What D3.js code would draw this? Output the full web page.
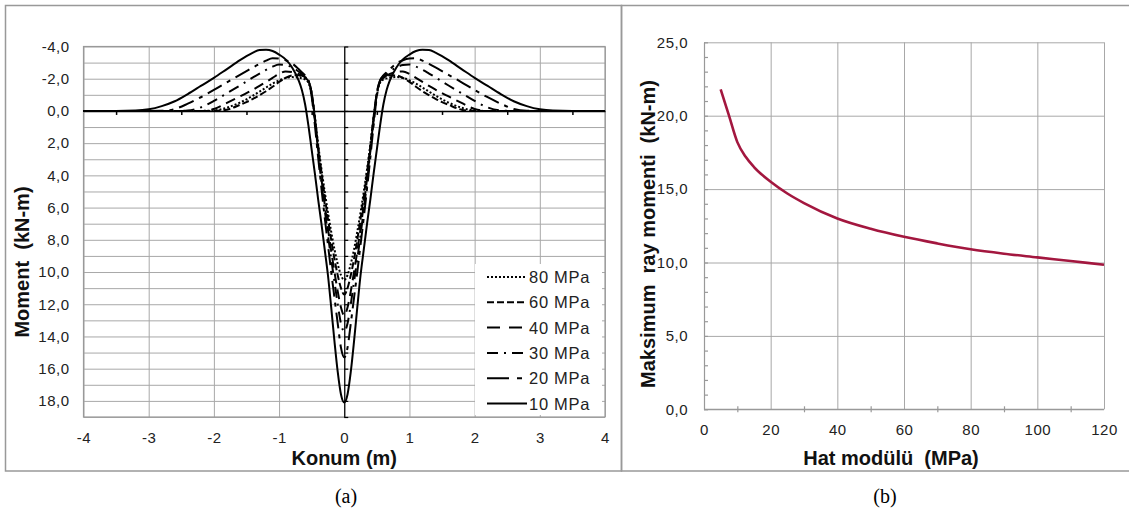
<!DOCTYPE html>
<html>
<head>
<meta charset="utf-8">
<script src="https://cdn.jsdelivr.net/npm/d3@7"></script>
<style>
  body { margin: 0; background: #fff; }
  svg { display: block; font-family: "Liberation Sans", Arial, sans-serif; }
  .grid line { stroke: #a8a8a8; stroke-width: 1; }
  .grid path { display: none; }
  .lbl path, .lbl line { display: none; }
  .lbl text { font-size: 15px; letter-spacing: 0.5px; fill: #222; }
  .title { font-weight: bold; font-size: 20px; fill: #111; white-space: pre; }
  .cap { font-family: "Liberation Serif", "Times New Roman", serif; font-size: 20px; fill: #000; }
</style>
</head>
<body>
<svg id="chart" width="1129" height="508"></svg>
<script>
// ---- panel (a): moment along the rail, one series per track modulus ----
const konum = [-4.0, -3.5, -3.2, -3.0, -2.8, -2.6, -2.4, -2.2, -2.0, -1.8, -1.6, -1.5, -1.4, -1.3, -1.2, -1.1, -1.0, -0.9, -0.8, -0.7, -0.65, -0.6, -0.55, -0.5, -0.45, -0.4, -0.35, -0.3, -0.25, -0.2, -0.15, -0.1, -0.05,
  0, 0.05, 0.1, 0.15, 0.2, 0.25, 0.3, 0.35, 0.4, 0.45, 0.5, 0.55, 0.6, 0.65, 0.7, 0.8, 0.9, 1.0, 1.1, 1.2, 1.3, 1.4, 1.5, 1.6, 1.8, 2.0, 2.2, 2.4, 2.6, 2.8, 3.0, 3.2, 3.5, 4.0];

const moment80 = [0, 0, 0, 0, 0, 0, 0, 0, -0.03, -0.2, -0.52, -0.72, -0.95, -1.2, -1.45, -1.7, -1.9, -2.05, -2.1, -2.07, -2.02, -1.95, -1.75, -1.0, 0.4, 2.1, 3.6, 5.0, 6.3, 7.5, 8.6, 9.5, 10.2,
  10.5, 10.2, 9.5, 8.6, 7.5, 6.3, 5.0, 3.6, 2.1, 0.4, -1.0, -1.75, -1.95, -2.02, -2.07, -2.1, -2.05, -1.9, -1.7, -1.45, -1.2, -0.95, -0.72, -0.52, -0.2, -0.03, 0, 0, 0, 0, 0, 0, 0, 0];
const moment60 = [0, 0, 0, 0, 0, 0, 0, 0, 0, -0.08, -0.38, -0.55, -0.75, -0.98, -1.22, -1.5, -1.8, -2.05, -2.2, -2.22, -2.15, -2.05, -1.85, -1.1, 0.4, 2.2, 3.8, 5.3, 6.7, 8.0, 9.2, 10.2, 11.0,
  11.4, 11.0, 10.2, 9.2, 8.0, 6.7, 5.3, 3.8, 2.2, 0.4, -1.1, -1.85, -2.05, -2.15, -2.22, -2.2, -2.05, -1.8, -1.5, -1.22, -0.98, -0.75, -0.55, -0.38, -0.08, 0, 0, 0, 0, 0, 0, 0, 0, 0];
const moment40 = [0, 0, 0, 0, 0, 0, 0, 0, -0.12, -0.5, -0.9, -1.1, -1.32, -1.55, -1.8, -2.05, -2.3, -2.45, -2.42, -2.3, -2.2, -2.1, -1.9, -1.1, 0.5, 2.4, 4.2, 5.8, 7.3, 8.7, 10.0, 11.2, 12.2,
  12.7, 12.2, 11.2, 10.0, 8.7, 7.3, 5.8, 4.2, 2.4, 0.5, -1.1, -1.9, -2.1, -2.2, -2.3, -2.42, -2.45, -2.3, -2.05, -1.8, -1.55, -1.32, -1.1, -0.9, -0.5, -0.12, 0, 0, 0, 0, 0, 0, 0, 0];
const moment30 = [0, 0, 0, 0, 0, 0, -0.03, -0.22, -0.62, -1.1, -1.58, -1.83, -2.08, -2.32, -2.55, -2.75, -2.88, -2.85, -2.7, -2.45, -2.3, -2.15, -1.9, -1.1, 0.6, 2.5, 4.4, 6.1, 7.7, 9.2, 10.6, 12.0, 13.2,
  13.7, 13.2, 12.0, 10.6, 9.2, 7.7, 6.1, 4.4, 2.5, 0.6, -1.1, -1.9, -2.15, -2.3, -2.45, -2.7, -2.85, -2.88, -2.75, -2.55, -2.32, -2.08, -1.83, -1.58, -1.1, -0.62, -0.22, -0.03, 0, 0, 0, 0, 0, 0];
const moment20 = [0, 0, 0, 0, -0.01, -0.12, -0.45, -0.85, -1.3, -1.78, -2.24, -2.47, -2.7, -2.92, -3.12, -3.27, -3.25, -3.15, -2.95, -2.6, -2.4, -2.2, -1.9, -0.9, 0.9, 2.9, 4.8, 6.6, 8.3, 10.0, 11.6, 13.2, 14.7,
  15.3, 14.7, 13.2, 11.6, 10.0, 8.3, 6.6, 4.8, 2.9, 0.9, -0.9, -1.9, -2.2, -2.4, -2.6, -2.95, -3.15, -3.25, -3.27, -3.12, -2.92, -2.7, -2.47, -2.24, -1.78, -1.3, -0.85, -0.45, -0.12, -0.01, 0, 0, 0, 0];
const moment10 = [0, 0, -0.02, -0.1, -0.3, -0.6, -1.05, -1.55, -2.05, -2.6, -3.15, -3.4, -3.62, -3.78, -3.8, -3.72, -3.5, -3.2, -2.7, -1.9, -1.3, -0.4, 0.9, 2.4, 3.9, 5.5, 7.0, 8.6, 10.2, 12.2, 14.3, 16.2, 17.6,
  18.1, 17.6, 16.2, 14.3, 12.2, 10.2, 8.6, 7.0, 5.5, 3.9, 2.4, 0.9, -0.4, -1.3, -1.9, -2.7, -3.2, -3.5, -3.72, -3.8, -3.78, -3.62, -3.4, -3.15, -2.6, -2.05, -1.55, -1.05, -0.6, -0.3, -0.1, -0.02, 0, 0];

const seriesNames = ["80 MPa", "60 MPa", "40 MPa", "30 MPa", "20 MPa", "10 MPa"];
const seriesValues = [moment80, moment60, moment40, moment30, moment20, moment10];
const dashes = ["2,2", "7,3", "13,9", "11,6,2,6", "22,8,5,8", null];

const xTicksA = [-4, -3, -2, -1, 0, 1, 2, 3, 4];
const yTicksA = [-4, -2, 0, 2, 4, 6, 8, 10, 12, 14, 16, 18];

// ---- panel (b): maximum rail moment vs track modulus ----
const hatModulu = [5, 7.5, 10, 12.5, 15, 20, 25, 30, 40, 50, 60, 70, 80, 90, 100, 110, 120];
const maxMoment = [21.8, 20.0, 18.2, 17.2, 16.5, 15.5, 14.7, 14.05, 13.0, 12.3, 11.75, 11.3, 10.9, 10.6, 10.35, 10.1, 9.85];
const xTicksB = [0, 20, 40, 60, 80, 100, 120];
const yTicksB = [0, 5, 10, 15, 20, 25];

const tr = d3.formatLocale({decimal: ",", thousands: ".", grouping: [3], currency: ["", ""], minus: "-"});
const fmt1 = tr.format(".1f");
const fmt0 = tr.format("d");

const svg = d3.select("#chart");

// panel frames
svg.append("rect").attr("x", 5.5).attr("y", 5.5).attr("width", 616).attr("height", 465.5)
  .attr("fill", "none").attr("stroke", "#999").attr("stroke-width", 1.5);
svg.append("rect").attr("x", 621.5).attr("y", 5.5).attr("width", 520).attr("height", 465.5)
  .attr("fill", "none").attr("stroke", "#999").attr("stroke-width", 1.5);

// ================= panel (a) =================
const xA = d3.scaleLinear().domain([-4, 4]).range([83.5, 605]);
const yA = d3.scaleLinear().domain([-4, 19]).range([46.5, 417]);
const gA = svg.append("g");

gA.append("g").attr("class", "grid")
  .attr("transform", `translate(${xA(-4)},0)`)
  .call(d3.axisLeft(yA).tickValues(d3.range(-4, 20, 1)).tickSize(-(xA(4) - xA(-4))).tickFormat(""));
gA.append("g").attr("class", "grid")
  .attr("transform", `translate(0,${yA(19)})`)
  .call(d3.axisBottom(xA).tickValues(xTicksA).tickSize(-(yA(19) - yA(-4))).tickFormat(""));
gA.append("rect").attr("x", xA(-4)).attr("y", yA(-4)).attr("width", xA(4) - xA(-4)).attr("height", yA(19) - yA(-4))
  .attr("fill", "none").attr("stroke", "#999").attr("stroke-width", 1.2);

// tick labels
gA.append("g").attr("class", "lbl").attr("transform", `translate(${xA(-4)},0)`)
  .call(d3.axisLeft(yA).tickValues(yTicksA).tickSize(0).tickPadding(14).tickFormat(fmt1));
gA.append("g").attr("class", "lbl").attr("transform", `translate(0,${yA(19)})`)
  .call(d3.axisBottom(xA).tickValues(xTicksA).tickSize(0).tickPadding(15).tickFormat(fmt0));

// black axes crossing at the origin
const ax0 = gA.append("g").attr("transform", `translate(0,${yA(0)})`)
  .call(d3.axisBottom(xA).tickValues(d3.range(-3.5, 4, 1)).tickSize(4).tickSizeOuter(0).tickFormat(""));
ax0.selectAll("path, line").attr("stroke", "#000").attr("stroke-width", 1.5);
const ay0 = gA.append("g").attr("transform", `translate(${xA(0)},0)`)
  .call(d3.axisRight(yA).tickValues(d3.range(-4, 20, 1)).tickSize(4).tickSizeOuter(0).tickFormat(""));
ay0.selectAll("path, line").attr("stroke", "#000").attr("stroke-width", 1.2);

// curves
const lineA = d3.line().x(d => xA(d[0])).y(d => yA(d[1])).curve(d3.curveMonotoneX);
seriesValues.forEach((vals, i) => {
  gA.append("path")
    .datum(konum.map((k, j) => [k, vals[j]]))
    .attr("d", lineA)
    .attr("fill", "none")
    .attr("stroke", "#000")
    .attr("stroke-width", 2)
    .attr("stroke-dasharray", i === 2 ? "10,6" : i === 4 ? "16,6,4,6" : dashes[i]);
});

// legend
const leg = gA.append("g");
leg.append("rect").attr("x", 475).attr("y", 264).attr("width", 127).attr("height", 151).attr("fill", "#fff");
seriesNames.forEach((name, i) => {
  const yy = 277 + i * 25.3;
  leg.append("line").attr("x1", 487).attr("x2", 527).attr("y1", yy).attr("y2", yy)
    .attr("stroke", "#000").attr("stroke-width", 2).attr("stroke-dasharray", dashes[i]);
  leg.append("text").attr("x", 529).attr("y", yy + 6).attr("font-size", 16.5)
    .attr("letter-spacing", "0.7px").attr("fill", "#222").text(name);
});

gA.append("text").attr("class", "title").attr("x", xA(0)).attr("y", 465).attr("text-anchor", "middle").text("Konum (m)");
gA.append("text").attr("class", "title").attr("text-anchor", "middle")
  .attr("transform", "translate(29,262) rotate(-90)").text("Moment  (kN-m)");

// ================= panel (b) =================
const xB = d3.scaleLinear().domain([0, 120]).range([704, 1104]);
const yB = d3.scaleLinear().domain([0, 25]).range([409.3, 42.3]);
const gB = svg.append("g");

gB.append("g").attr("class", "grid")
  .attr("transform", `translate(${xB(0)},0)`)
  .call(d3.axisLeft(yB).tickValues(yTicksB).tickSize(-(xB(120) - xB(0))).tickFormat(""));
gB.append("g").attr("class", "grid")
  .attr("transform", `translate(0,${yB(0)})`)
  .call(d3.axisBottom(xB).tickValues(xTicksB).tickSize(-(yB(0) - yB(25))).tickFormat(""));

const axB = gB.append("g").attr("transform", `translate(${xB(0)},0)`)
  .call(d3.axisRight(yB).tickValues(d3.range(0, 26, 1)).tickSize(4).tickSizeOuter(0).tickFormat(""));
axB.selectAll("path, line").attr("stroke", "#999").attr("stroke-width", 1.2);
const bxB = gB.append("g").attr("transform", `translate(0,${yB(0) + 3})`)
  .call(d3.axisTop(xB).tickValues(d3.range(10, 120, 20)).tickSize(6).tickSizeOuter(0).tickFormat(""));
bxB.select("path").remove();
bxB.selectAll("line").attr("stroke", "#999").attr("stroke-width", 1.2);
gB.append("line").attr("x1", xB(0)).attr("x2", xB(120)).attr("y1", yB(0)).attr("y2", yB(0))
  .attr("stroke", "#999").attr("stroke-width", 1.2);

gB.append("g").attr("class", "lbl").attr("transform", `translate(${xB(0)},0)`)
  .call(d3.axisLeft(yB).tickValues(yTicksB).tickSize(0).tickPadding(16).tickFormat(fmt1));
gB.append("g").attr("class", "lbl").attr("transform", `translate(0,${yB(0)})`)
  .call(d3.axisBottom(xB).tickValues(xTicksB).tickSize(0).tickPadding(15).tickFormat(fmt0));

const lineB = d3.line().x((d, i) => xB(hatModulu[i])).y(d => yB(d)).curve(d3.curveMonotoneX);
gB.append("path").datum(maxMoment).attr("d", lineB)
  .attr("fill", "none").attr("stroke", "#a3173f").attr("stroke-width", 2.6);

gB.append("text").attr("class", "title").attr("x", 891).attr("y", 465).attr("text-anchor", "middle").text("Hat modülü  (MPa)");
gB.append("text").attr("class", "title").attr("text-anchor", "middle")
  .attr("transform", "translate(655,234) rotate(-90)").text("Maksimum  ray momenti  (kN-m)");

// captions
svg.append("text").attr("class", "cap").attr("x", 346).attr("y", 503).attr("text-anchor", "middle").text("(a)");
svg.append("text").attr("class", "cap").attr("x", 885).attr("y", 503).attr("text-anchor", "middle").text("(b)");
</script>
</body>
</html>
